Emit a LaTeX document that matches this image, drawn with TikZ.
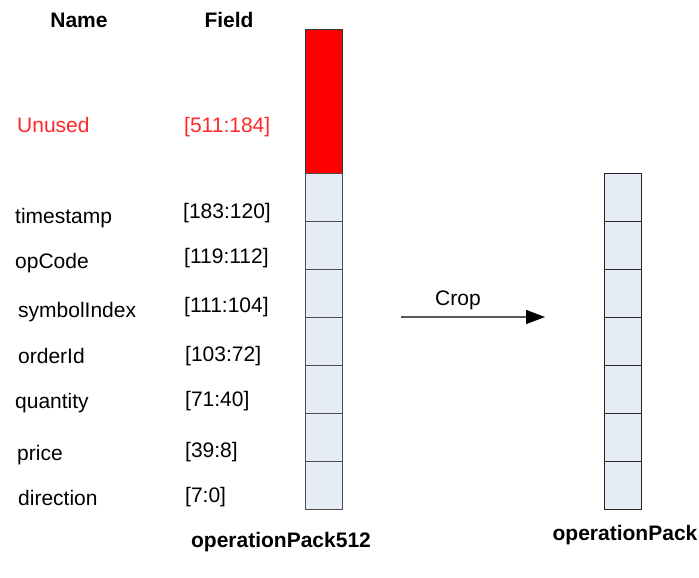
\documentclass[tikz,border=0pt]{standalone}
\usepackage{fontspec}
\setmainfont{Liberation Sans}
\usetikzlibrary{arrows.meta}

\definecolor{cellblue}{RGB}{230,236,246}
\definecolor{unusedred}{RGB}{255,0,0}
\definecolor{textred}{RGB}{255,40,40}

\tikzset{
  cell/.style={draw=black!70, fill=cellblue, line width=1pt, minimum width=37pt,
    minimum height=47.9pt, inner sep=0pt, outer sep=0pt},
  lbl/.style={anchor=base west, inner sep=0pt, font=\fontsize{21}{25}\selectfont},
  title/.style={anchor=base, inner sep=0pt, font=\fontsize{21}{25}\selectfont\bfseries},
}

\begin{document}
\begin{tikzpicture}[x=1pt, y=-1pt, line join=round, >=stealth]
  \useasboundingbox (0,0) rectangle (699,578);

  % column headings
  \node[title] (hname) at (79,28) {Name};
  \node[title] (hfield) at (229,28) {Field};

  % unused upper part of the 512-bit word
  \node[lbl, text=textred] (nunused) at (17,132) {Unused};
  \node[lbl, text=textred] (funused) at (184,132) {[511:184]};
  \node[cell, fill=unusedred, draw=black!80, minimum height=144pt] (unused) at (323.5,102) {};

  % field names and bit ranges
  \foreach \name/\x/\y [count=\i] in {timestamp/15/223, opCode/15/268, symbolIndex/18/317,
      orderId/18/363, quantity/15/408, price/17/460, direction/18/505}
    \node[lbl] (name\i) at (\x,\y) {\name};
  \foreach \range/\x/\y [count=\i] in {{[183:120]}/183/218, {[119:112]}/184/263, {[111:104]}/184/312,
      {[103:72]}/185/361, {[71:40]}/185/406, {[39:8]}/185/457, {[7:0]}/185/502}
    \node[lbl] (range\i) at (\x,\y) {\range};

  % operationPack512 cells
  \foreach \i in {0,...,6}
    \node[cell] (wide\i) at (323.5,{197.9+47.86*\i}) {};

  % operationPack cells
  \foreach \i in {0,...,6}
    \node[cell, draw=black!85] (pack\i) at (622.5,{197.3+47.96*\i}) {};

  % crop arrow
  \coordinate (cropstart) at (401,317);
  \coordinate (cropend) at (545,317);
  \draw[black!65, line width=1.3pt, -{Triangle[length=19pt, width=14pt, color=black]}]
    (cropstart) -- (cropend);
  \node[lbl, anchor=base] (croplabel) at (458,305) {Crop};

  % word names
  \node[title] (wide) at (281,547) {operationPack512};
  \node[title] (pack) at (625,540) {operationPack};
\end{tikzpicture}
\end{document}
